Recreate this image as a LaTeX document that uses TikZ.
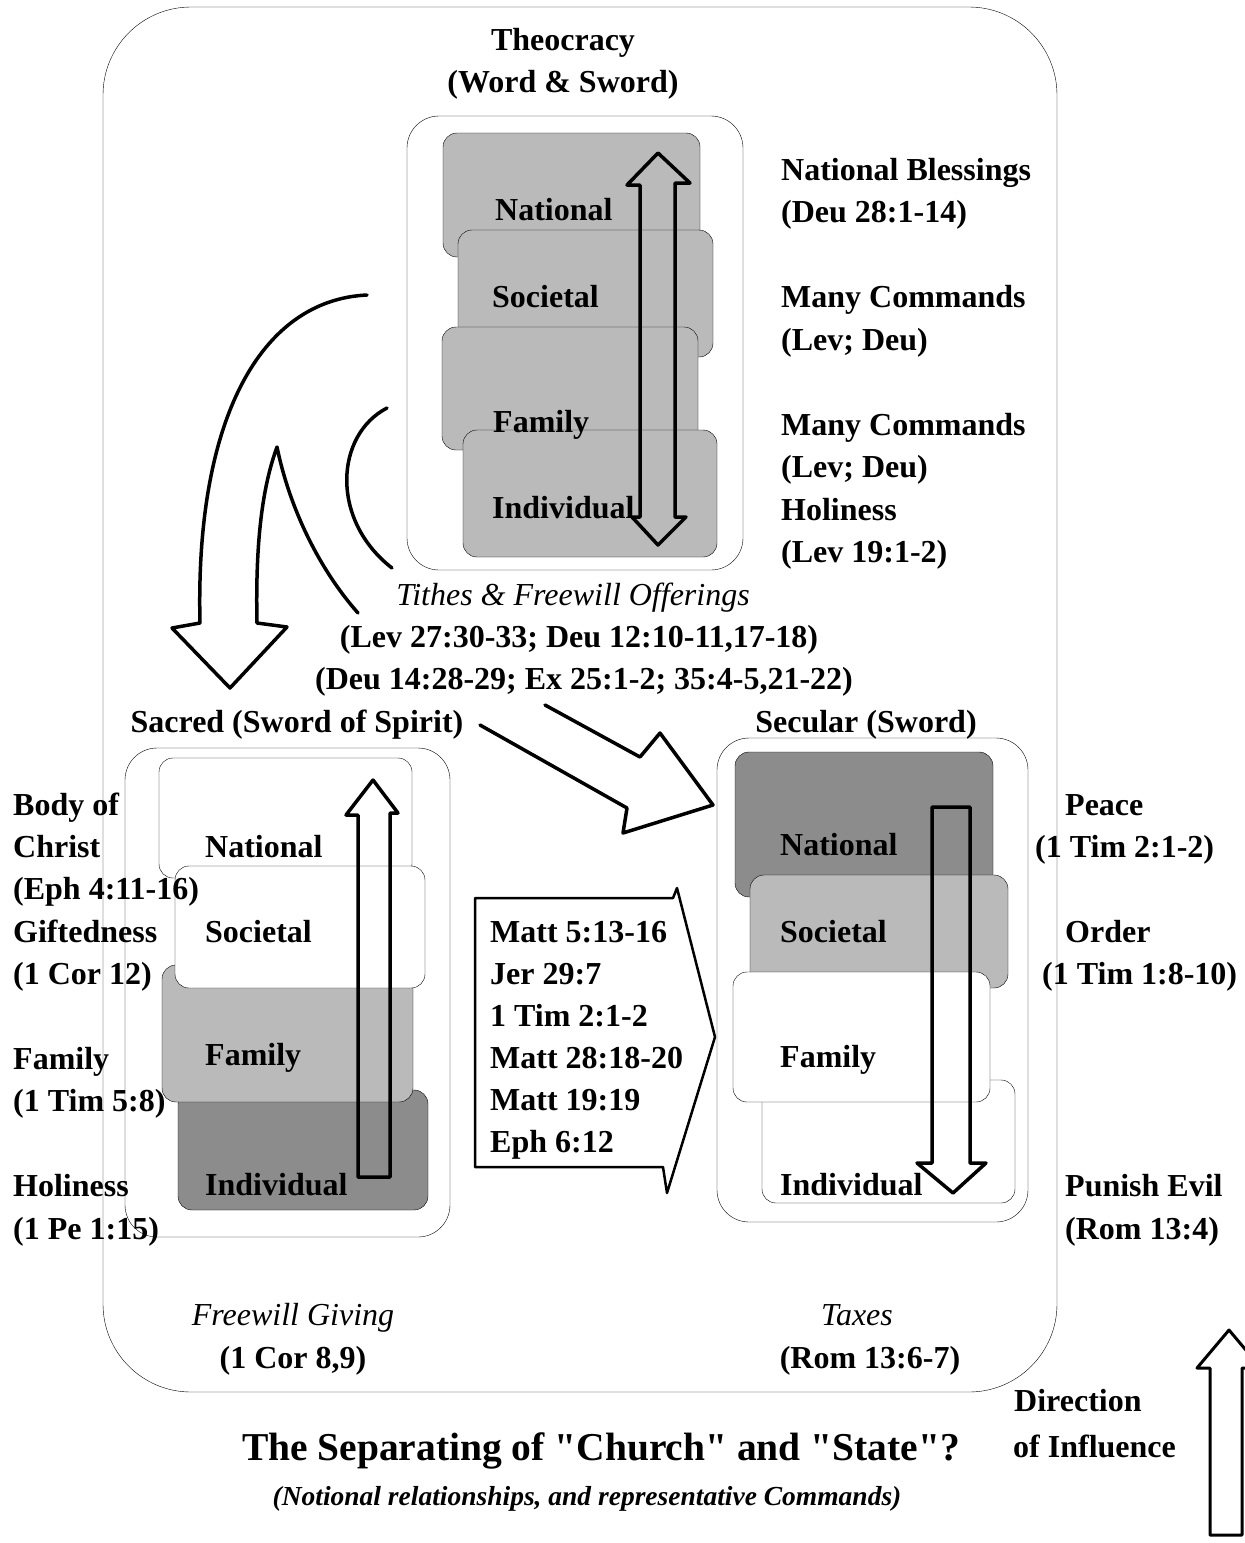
\documentclass[tikz,border=0pt]{standalone}
\usepackage{fontspec}
\setmainfont{Liberation Serif}
\usepackage{tikz}
\usetikzlibrary{positioning}
\tikzset{
	line width = 1.5pt,
	font = \bfseries\fontsize{32}{40}\selectfont,
	framebox/.style={
		draw,
		rounded corners=32
	},
	plainlayer/.style={
		draw,
		fill=white,
		rounded corners=14
	},
	dotlayer/.style={
		plainlayer,
		fill=black!27
	},
	gridlayer/.style={
		plainlayer,
		fill=black!45
	},
	lbl/.style={
		anchor=base west,
		inner sep=0pt
	},
	ctr/.style={
		anchor=base,
		inner sep=0pt
	},
	itl/.style={
		ctr,
		font=\itshape\mdseries\fontsize{32}{40}\selectfont
	},
	hollow/.style={
		line width=3.5pt,
		line join=round,
		line cap=round
	}
}

\begin{document}
\begin{tikzpicture}[x=1pt, y=-1pt]
\useasboundingbox (0,0) rectangle (1245,1543);

% outer frame
\draw[rounded corners=88] (103,7) rectangle (1057,1392);

% theocracy
\node[ctr] (theo) at (563,50) {Theocracy};
\node[ctr] (theoSub) at ([yshift=-42]theo.base) {(Word \& Sword)};
\draw[framebox] (407,116) rectangle (743,570);
\draw[dotlayer] (443,133) rectangle (700,257);
\draw[dotlayer] (458,230) rectangle (713,357);
\draw[dotlayer] (442,327) rectangle (698,450);
\draw[dotlayer] (463,430) rectangle (717,557);
\node[lbl] (tNat) at (495,220) {National};
\node[lbl] (tSoc) at (492,307) {Societal};
\node[lbl] (tFam) at (493,432) {Family};
\node[lbl] (tInd) at (492,518) {Individual};
\draw[hollow] (640,185) -- (627,185) -- (658,153) -- (690,183) -- (675,183) -- (675,517)
	-- (686,517) -- (658,545) -- (632,517) -- (640,517) -- cycle;

\foreach \i/\t in {0/National Blessings, 1/{(Deu 28:1-14)}, 3/Many Commands, 4/{(Lev; Deu)},
	6/Many Commands, 7/{(Lev; Deu)}, 8/Holiness, 9/{(Lev 19:1-2)}}
	\node[lbl] (tc\i) at (781,180+42.5*\i) {\t};

% the split towards sacred and secular
\draw[hollow] (367,295) .. controls (260,300) and (195,420) .. (200,623) -- (172,628) -- (230,688)
	-- (287,627) -- (257,623) .. controls (255,530) and (265,480) .. (277,447)
	.. controls (290,510) and (320,570) .. (358,613);
\draw[hollow] (387,408) .. controls (335,435) and (330,520) .. (392,568);
\draw[hollow] (480,725) -- (627,808) -- (623,833) -- (713,805) -- (660,733) -- (640,757) -- (545,705);

\node[itl] (tithe) at (573,605) {Tithes \& Freewill Offerings};
\node[ctr] (tithe1) at (579,647) {(Lev 27:30-33; Deu 12:10-11,17-18)};
\node[ctr] (tithe2) at (584,689) {(Deu 14:28-29; Ex 25:1-2; 35:4-5,21-22)};

% sacred
\node[ctr] (sacred) at (297,732) {Sacred (Sword of Spirit)};
\draw[framebox] (125,748) rectangle (450,1237);
\draw[gridlayer] (178,1090) rectangle (428,1210);
\draw[dotlayer] (162,965) rectangle (413,1102);
\draw[plainlayer] (159,758) rectangle (412,878);
\draw[plainlayer] (175,866) rectangle (425,988);
\node[lbl] (sNat) at (205,857) {National};
\node[lbl] (sSoc) at (205,942) {Societal};
\node[lbl] (sFam) at (205,1065) {Family};
\node[lbl] (sInd) at (205,1195) {Individual};
\draw[hollow] (358,1177) -- (358,815) -- (346,815) -- (373,780) -- (398,813) -- (390,813)
	-- (390,1177) -- cycle;

\foreach \i/\t in {0/Body of, 1/Christ, 2/{(Eph 4:11-16)}, 3/Giftedness, 4/{(1 Cor 12)},
	6/Family, 7/{(1 Tim 5:8)}, 9/Holiness, 10/{(1 Pe 1:15)}}
	\node[lbl] (sc\i) at (13,815+42.4*\i) {\t};

% secular
\node[ctr] (secular) at (866,732) {Secular (Sword)};
\draw[framebox] (717,738) rectangle (1028,1222);
\draw[gridlayer] (735,752) rectangle (993,897);
\draw[dotlayer] (750,875) rectangle (1008,988);
\draw[plainlayer] (762,1080) rectangle (1015,1203);
\draw[plainlayer] (733,972) rectangle (990,1102);
\node[lbl] (eNat) at (780,855) {National};
\node[lbl] (eSoc) at (780,942) {Societal};
\node[lbl] (eFam) at (780,1067) {Family};
\node[lbl] (eInd) at (780,1195) {Individual};
\draw[hollow] (932,807) -- (970,807) -- (970,1163) -- (986,1163) -- (953,1193) -- (917,1163)
	-- (932,1163) -- cycle;

\foreach \i/\x/\t in {0/1065/Peace, 1/1035/{(1 Tim 2:1-2)}, 3/1065/Order, 4/1042/{(1 Tim 1:8-10)},
	9/1065/Punish Evil, 10/1065/{(Rom 13:4)}}
	\node[lbl] (ec\i) at (\x,815+42.4*\i) {\t};

% commands between them
\draw[line width=2.5pt, line join=round] (475,898) -- (673,898) -- (677,888) -- (715,1037)
	-- (667,1193) -- (663,1167) -- (475,1167) -- cycle;
\foreach \i/\t in {0/Matt 5:13-16, 1/Jer 29:7, 2/1 Tim 2:1-2, 3/Matt 28:18-20, 4/Matt 19:19, 5/Eph 6:12}
	\node[lbl] (cmd\i) at (490,942+42*\i) {\t};

% giving
\node[itl] (give) at (293,1325) {Freewill Giving};
\node[ctr] (giveRef) at ([yshift=-43]give.base) {(1 Cor 8,9)};
\node[itl] (tax) at (857,1325) {Taxes};
\node[ctr] (taxRef) at (870,1368) {(Rom 13:6-7)};

% direction
\node[lbl] (dir) at (1014,1411) {Direction};
\node[lbl] (dirB) at (1013,1457) {of Influence};
\draw[line width=3pt, line join=round] (1210,1535) -- (1210,1368) -- (1197,1368) -- (1229,1330)
	-- (1261,1368) -- (1242,1368) -- (1242,1535) -- cycle;

% title
\node[ctr, font=\bfseries\fontsize{39.5}{46}\selectfont] (title) at (601,1460)
	{The Separating of \textquotedbl Church\textquotedbl{} and \textquotedbl State\textquotedbl ?};
\node[ctr, font=\bfseries\itshape\fontsize{27.5}{32}\selectfont] (subtitle) at (587,1505)
	{(Notional relationships, and representative Commands)};
\end{tikzpicture}
\end{document}
